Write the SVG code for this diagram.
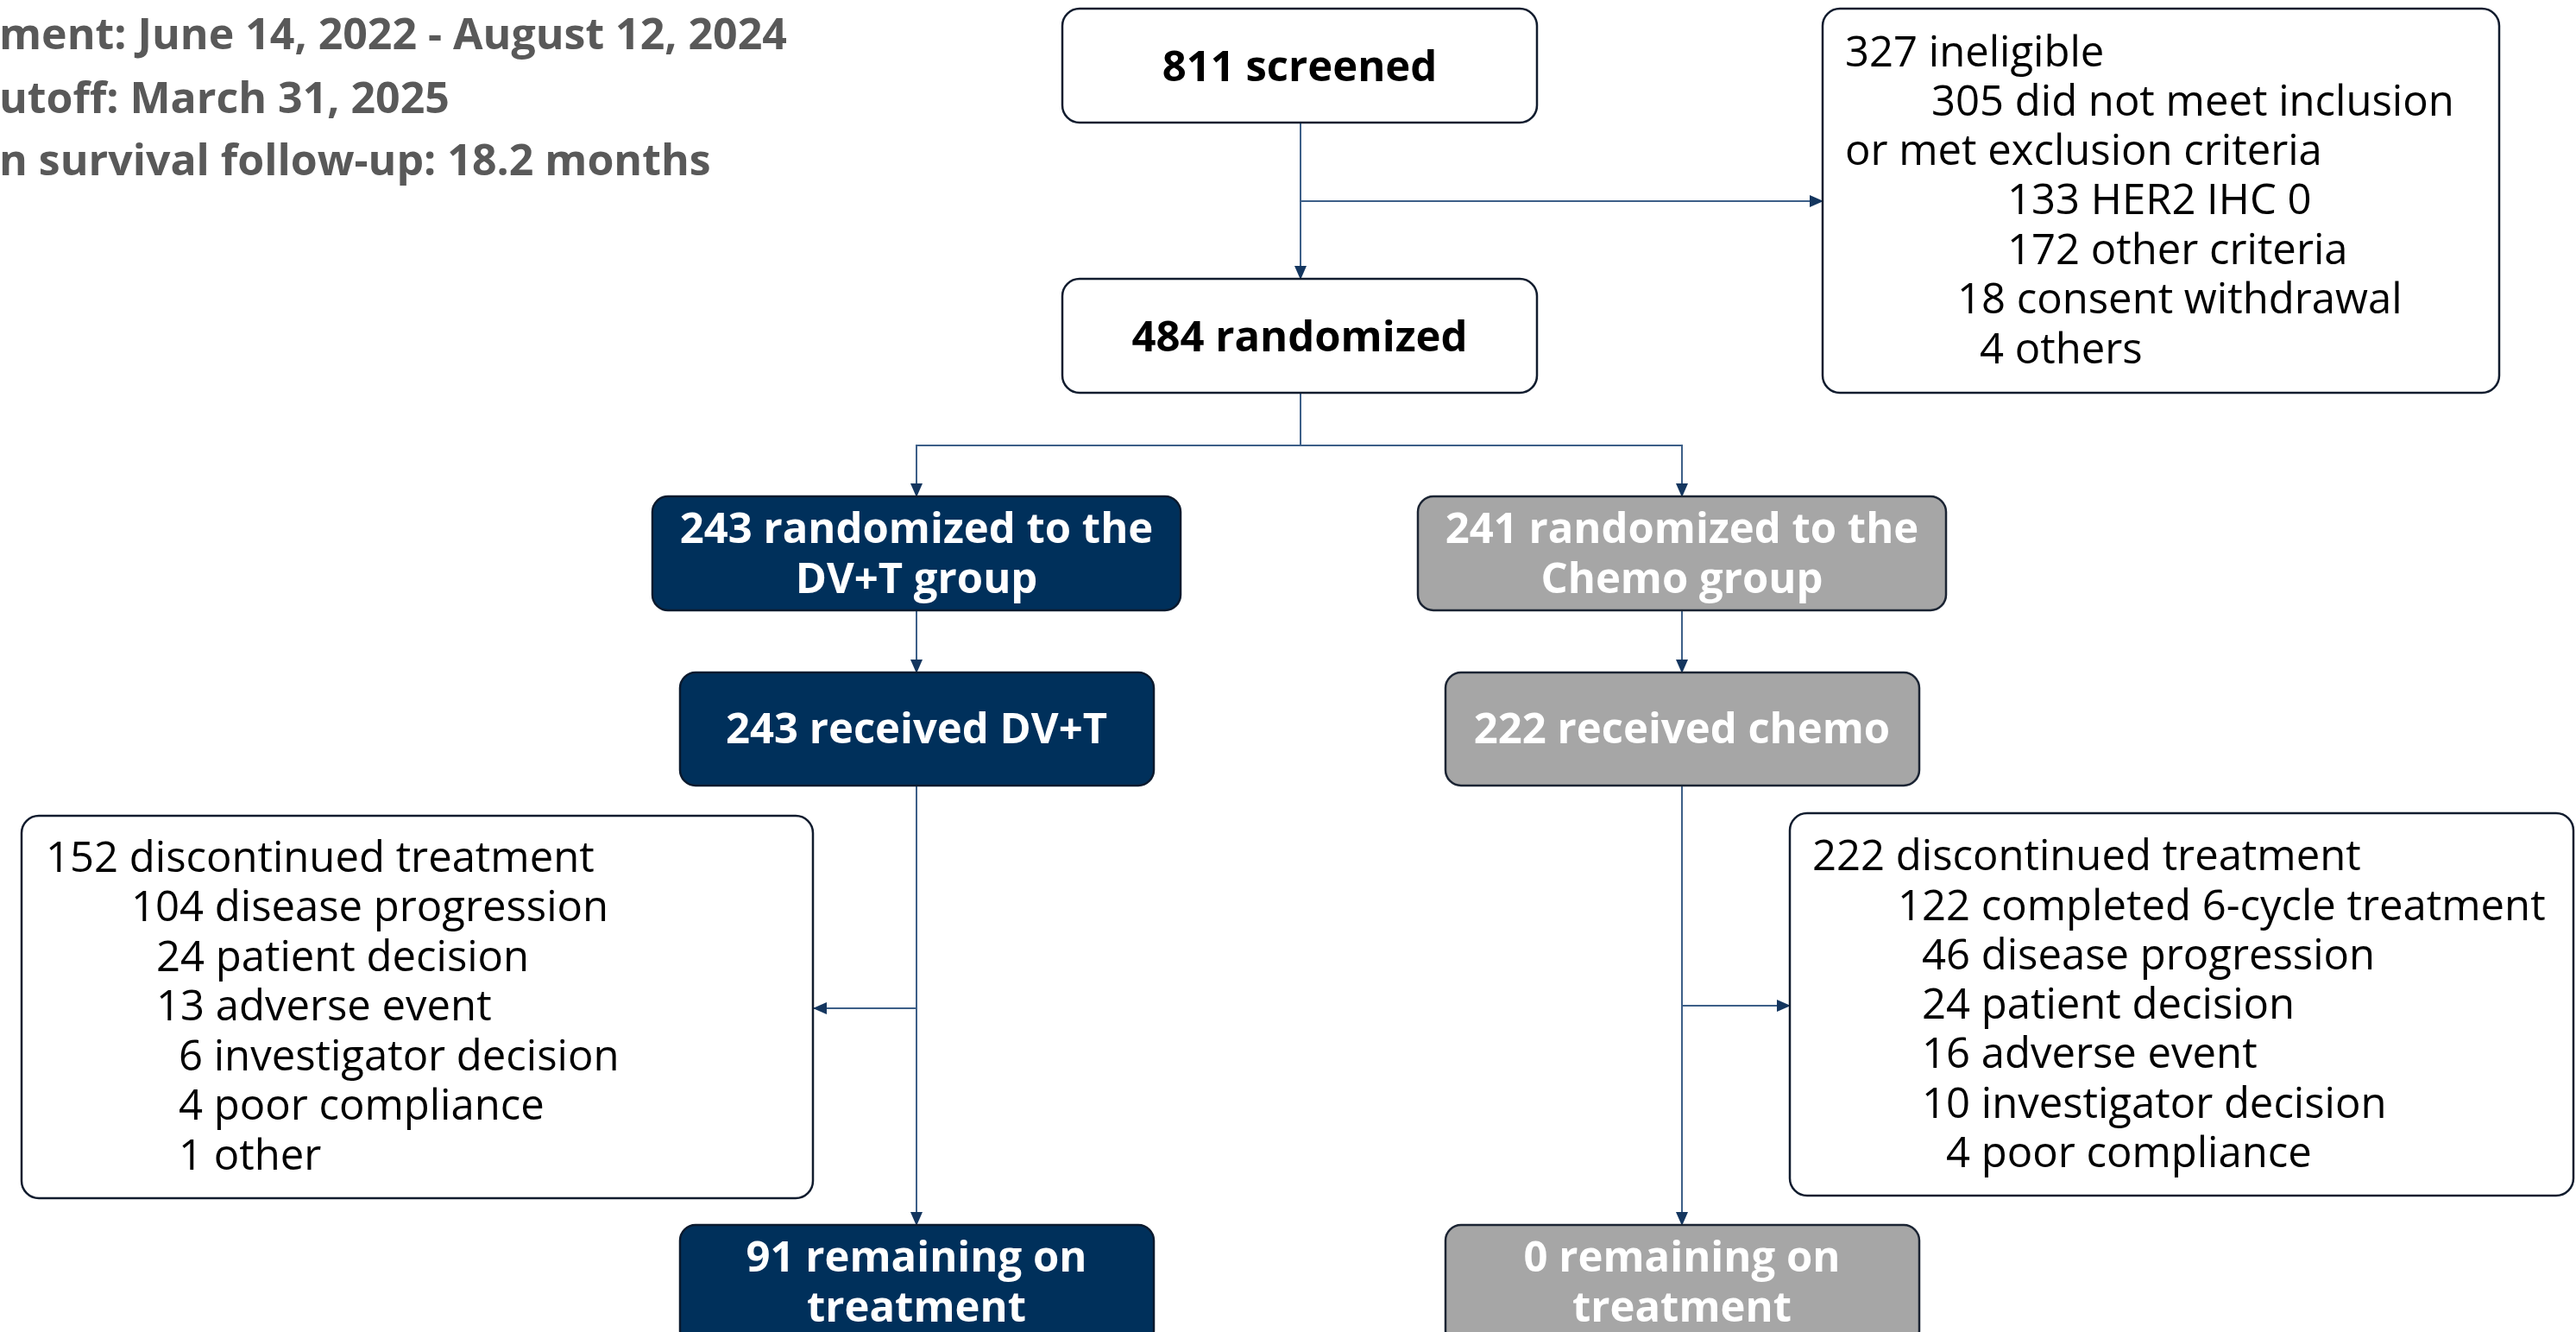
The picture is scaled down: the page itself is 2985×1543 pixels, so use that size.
<svg xmlns="http://www.w3.org/2000/svg" width="2985" height="1543" viewBox="0 0 2985 1543">
<defs>
<marker id="arr" markerUnits="userSpaceOnUse" markerWidth="16" markerHeight="14" refX="15" refY="7" orient="auto">
<path d="M0,0 L16,7 L0,14 z" fill="#14365f"/>
</marker>
<style>
text{font-family:"Open Sans","Noto Sans","Liberation Sans",sans-serif;}
.hdr{font-size:50px;font-weight:700;fill:#595959;}
.b{font-size:49px;font-weight:700;text-anchor:middle;}
.r{font-size:49px;font-weight:400;fill:#000;}
.wbox{fill:#fff;stroke:#111c2e;stroke-width:2.5;}
.nbox{fill:#00305b;stroke:#0b1a2e;stroke-width:2.5;}
.gbox{fill:#a6a6a6;stroke:#1b2433;stroke-width:2.5;}
.blk{fill:#000;}
.wht{fill:#fff;}
.con{fill:none;stroke:#3d5f88;stroke-width:2;}
</style>
</defs>
<rect width="2985" height="1543" fill="#fff"/>
<g id="header">
<text class="hdr" x="-1" y="57">ment: June 14, 2022 - August 12, 2024</text>
<text class="hdr" x="-1" y="131">utoff: March 31, 2025</text>
<text class="hdr" x="-1" y="203">n survival follow-up: 18.2 months</text>
</g>
<g id="connectors">
<path class="con" d="M1507,142 V323" marker-end="url(#arr)"/>
<path class="con" d="M1507,233 H2112" marker-end="url(#arr)"/>
<path class="con" d="M1507,455 V516 H1062 V575" marker-end="url(#arr)"/>
<path class="con" d="M1507,516 H1949 V575" marker-end="url(#arr)"/>
<path class="con" d="M1062,707 V779" marker-end="url(#arr)"/>
<path class="con" d="M1062,910 V1419" marker-end="url(#arr)"/>
<path class="con" d="M1062,1168 H943" marker-end="url(#arr)"/>
<path class="con" d="M1949,707 V779" marker-end="url(#arr)"/>
<path class="con" d="M1949,910 V1419" marker-end="url(#arr)"/>
<path class="con" d="M1949,1165 H2074" marker-end="url(#arr)"/>
</g>
<g id="screened">
<rect class="wbox" x="1231" y="10" width="550" height="132" rx="20"/>
<text class="b blk" x="1506" y="94">811 screened</text>
</g>
<g id="randomized">
<rect class="wbox" x="1231" y="323" width="550" height="132" rx="20"/>
<text class="b blk" x="1506" y="407">484 randomized</text>
</g>
<g id="ineligible">
<rect class="wbox" x="2112" y="10" width="784" height="445" rx="20"/>
<text class="r" x="2138" y="77">327 ineligible</text>
<text class="r" x="2238" y="134">305 did not meet inclusion</text>
<text class="r" x="2138" y="191">or met exclusion criteria</text>
<text class="r" x="2326" y="248">133 HER2 IHC 0</text>
<text class="r" x="2326" y="306">172 other criteria</text>
<text class="r" x="2268" y="363">18 consent withdrawal</text>
<text class="r" x="2294" y="421">4 others</text>
</g>
<g id="dvt-randomized">
<rect class="nbox" x="756" y="575" width="612" height="132" rx="18"/>
<text class="b wht" x="1062" y="629">243 randomized to the</text>
<text class="b wht" x="1062" y="687">DV+T group</text>
</g>
<g id="chemo-randomized">
<rect class="gbox" x="1643" y="575" width="612" height="132" rx="18"/>
<text class="b wht" x="1949" y="629">241 randomized to the</text>
<text class="b wht" x="1949" y="687">Chemo group</text>
</g>
<g id="dvt-received">
<rect class="nbox" x="788" y="779" width="549" height="131" rx="18"/>
<text class="b wht" x="1062" y="861">243 received DV+T</text>
</g>
<g id="chemo-received">
<rect class="gbox" x="1675" y="779" width="549" height="131" rx="18"/>
<text class="b wht" x="1949" y="861">222 received chemo</text>
</g>
<g id="dvt-discontinued">
<rect class="wbox" x="25" y="945" width="917" height="443" rx="20"/>
<text class="r" x="53" y="1010">152 discontinued treatment</text>
<text class="r" x="152" y="1067">104 disease progression</text>
<text class="r" x="181" y="1125">24 patient decision</text>
<text class="r" x="181" y="1182">13 adverse event</text>
<text class="r" x="207" y="1240">6 investigator decision</text>
<text class="r" x="207" y="1297">4 poor compliance</text>
<text class="r" x="207" y="1355">1 other</text>
</g>
<g id="chemo-discontinued">
<rect class="wbox" x="2074" y="942" width="908" height="443" rx="20"/>
<text class="r" x="2100" y="1008">222 discontinued treatment</text>
<text class="r" x="2199" y="1066">122 completed 6-cycle treatment</text>
<text class="r" x="2227" y="1123">46 disease progression</text>
<text class="r" x="2227" y="1180">24 patient decision</text>
<text class="r" x="2227" y="1237">16 adverse event</text>
<text class="r" x="2227" y="1295">10 investigator decision</text>
<text class="r" x="2255" y="1352">4 poor compliance</text>
</g>
<g id="dvt-remaining">
<rect class="nbox" x="788" y="1419" width="549" height="140" rx="18"/>
<text class="b wht" x="1062" y="1473">91 remaining on</text>
<text class="b wht" x="1062" y="1531">treatment</text>
</g>
<g id="chemo-remaining">
<rect class="gbox" x="1675" y="1419" width="549" height="140" rx="18"/>
<text class="b wht" x="1949" y="1473">0 remaining on</text>
<text class="b wht" x="1949" y="1531">treatment</text>
</g>
</svg>
